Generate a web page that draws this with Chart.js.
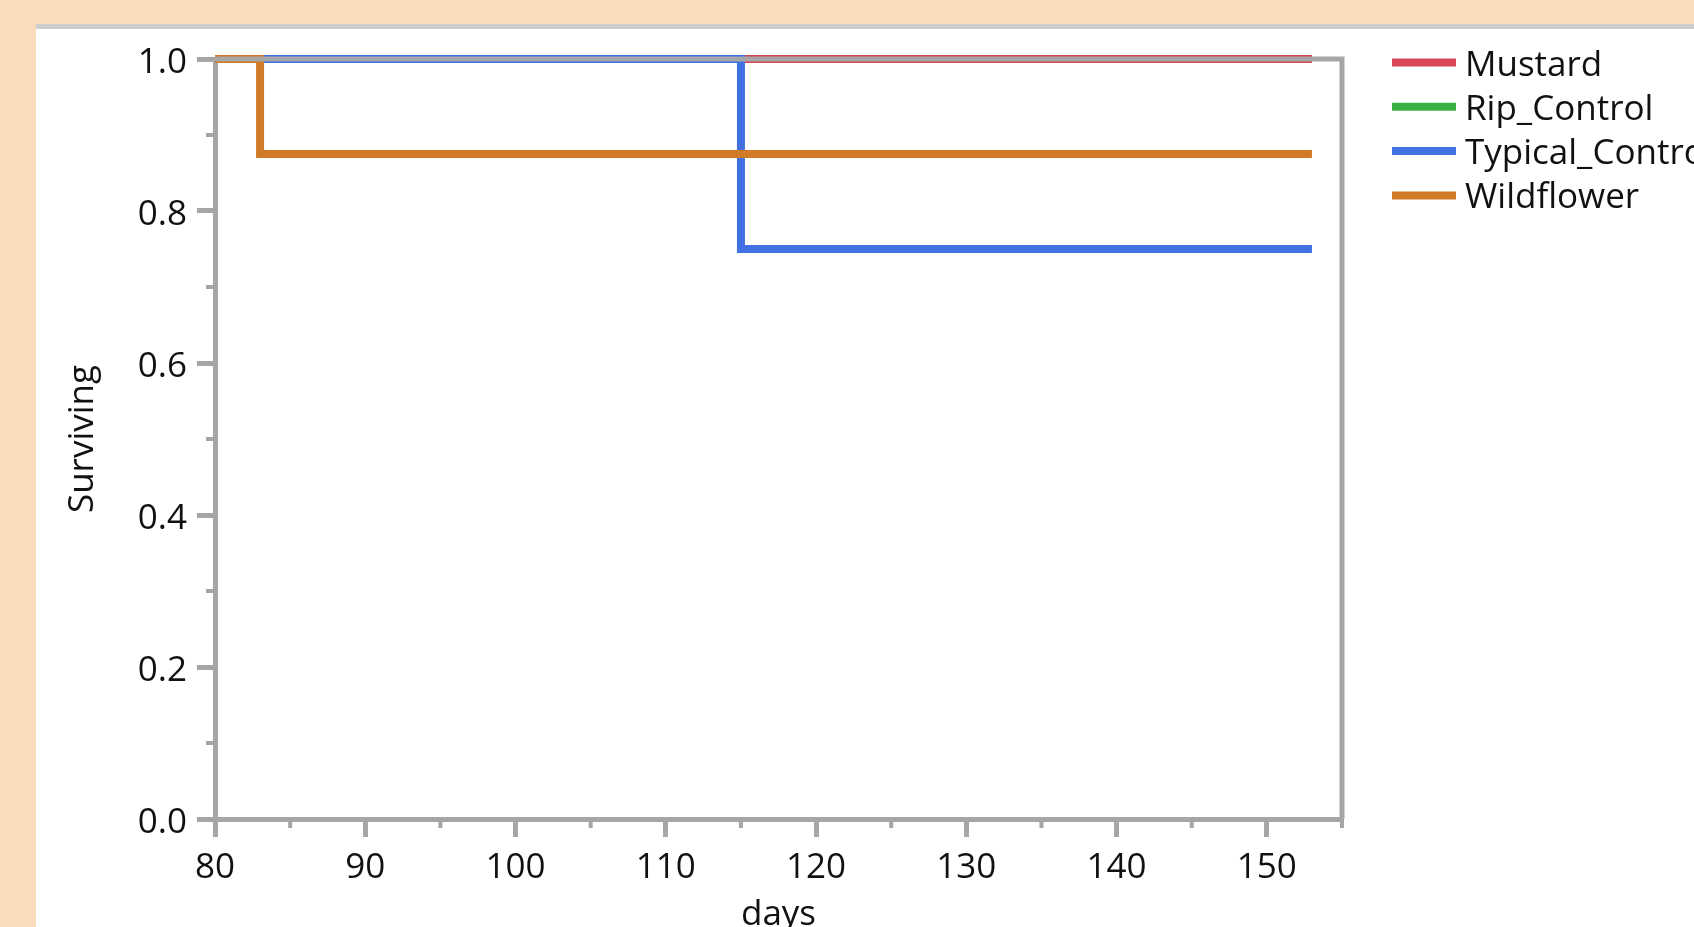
<!DOCTYPE html>
<html>
<head>
<meta charset="utf-8">
<title>Surviving</title>
<script src="https://cdn.jsdelivr.net/npm/chart.js@4.4.1/dist/chart.umd.min.js"></script>
<style>
  html, body { margin: 0; padding: 0; width: 1694px; height: 927px; overflow: hidden; background: #fadcba; }
  #panel { position: absolute; left: 36px; top: 24px; right: 0; bottom: 0; background: #fff; border-top: 5px solid #cdcdcd; }
  #wrap { position: absolute; left: 0; top: 0; width: 1694px; height: 927px; }
</style>
</head>
<body>
<div id="panel"></div>
<div id="wrap"><canvas id="myChart"></canvas></div>
<script>
// series (Kaplan-Meier steps)
const seriesNames = ["Mustard", "Rip_Control", "Typical_Control", "Wildflower"];
const seriesColors = ["#d64858", "#3bb143", "#4170e0", "#d07a28"];
const drawOrder = [3, 4, 2, 1]; // lower = drawn on top

const mustardDays = [80, 153];
const mustardSurv = [1, 1];
const ripDays = [80, 153];
const ripSurv = [1, 1];
const typicalDays = [80, 115, 153];
const typicalSurv = [1, 0.75, 0.75];
const wildflowerDays = [80, 83, 153];
const wildflowerSurv = [1, 0.875, 0.875];

const xTicks = [80, 90, 100, 110, 120, 130, 140, 150];
const xMinor = [85, 95, 105, 115, 125, 135, 145, 155];
const yTicks = [0, 0.2, 0.4, 0.6, 0.8, 1.0];
const yMinor = [0.1, 0.3, 0.5, 0.7, 0.9];

const axisGray = "#a6a6a6";
const textColor = "#111";
const fontFamily = "'Open Sans', 'Noto Sans', sans-serif";
const fontSize = 35;

function toPoints(days, surv) {
  return days.map((d, i) => ({ x: d, y: surv[i] }));
}

const allDays = [mustardDays, ripDays, typicalDays, wildflowerDays];
const allSurv = [mustardSurv, ripSurv, typicalSurv, wildflowerSurv];

const datasets = seriesNames.map((name, i) => ({
  label: name,
  data: toPoints(allDays[i], allSurv[i]),
  borderColor: seriesColors[i],
  backgroundColor: seriesColors[i],
  borderWidth: 8,
  stepped: "before",
  pointRadius: 0,
  fill: false,
  clip: false,
  borderJoinStyle: "miter",
  borderCapStyle: "butt",
  order: drawOrder[i],
}));

// frame on top/right + minor ticks
const framePlugin = {
  id: "frame",
  afterDatasetsDraw(chart) {
    const { ctx, chartArea, scales } = chart;
    ctx.save();
    ctx.strokeStyle = axisGray;
    ctx.lineWidth = 5;
    ctx.lineCap = "butt";
    ctx.beginPath();
    ctx.moveTo(chartArea.left, chartArea.top);
    ctx.lineTo(chartArea.right, chartArea.top);
    ctx.lineTo(chartArea.right, chartArea.bottom);
    ctx.stroke();

    ctx.lineWidth = 4;
    ctx.beginPath();
    xMinor.forEach((v) => {
      const x = scales.x.getPixelForValue(v);
      ctx.moveTo(x, chartArea.bottom);
      ctx.lineTo(x, chartArea.bottom + 9);
    });
    yMinor.forEach((v) => {
      const y = scales.y.getPixelForValue(v);
      ctx.moveTo(chartArea.left, y);
      ctx.lineTo(chartArea.left - 9, y);
    });
    ctx.stroke();
    ctx.restore();
  },
};

// legend drawn at the right, clipped by the window edge like the original
const legendPlugin = {
  id: "sideLegend",
  afterDraw(chart) {
    const { ctx } = chart;
    ctx.save();
    ctx.font = fontSize + "px " + fontFamily;
    ctx.textBaseline = "alphabetic";
    ctx.textAlign = "left";
    chart.data.datasets.forEach((ds, i) => {
      const y = 62.5 + i * 44.3;
      ctx.strokeStyle = ds.borderColor;
      ctx.lineWidth = 8;
      ctx.beginPath();
      ctx.moveTo(1392, y);
      ctx.lineTo(1456, y);
      ctx.stroke();
      ctx.fillStyle = textColor;
      ctx.fillText(ds.label, 1465, y + 13);
    });
    ctx.restore();
  },
};

new Chart("myChart", {
  type: "line",
  data: { datasets: datasets },
  plugins: [framePlugin, legendPlugin],
  options: {
    responsive: true,
    maintainAspectRatio: false,
    animation: false,
    devicePixelRatio: 1,
    layout: { padding: { top: 59, right: 352, left: 0, bottom: 0 } },
    plugins: {
      legend: { display: false },
      tooltip: { enabled: false },
    },
    scales: {
      x: {
        type: "linear",
        position: "bottom",
        min: 80,
        max: 155,
        z: 1,
        border: { display: true, color: axisGray, width: 5 },
        grid: {
          display: true,
          drawOnChartArea: false,
          drawTicks: true,
          tickLength: 18,
          tickWidth: 5,
          tickColor: axisGray,
        },
        afterBuildTicks: (scale) => {
          scale.ticks = xTicks.map((v) => ({ value: v }));
        },
        afterFit: (scale) => {
          scale.height = 108;
        },
        ticks: {
          autoSkip: false,
          maxRotation: 0,
          padding: 10,
          color: textColor,
          font: { family: fontFamily, size: fontSize },
        },
        title: {
          display: true,
          text: "days",
          color: textColor,
          font: { family: fontFamily, size: fontSize, lineHeight: 0.6 },
          padding: { top: 0, bottom: 1 },
        },
      },
      y: {
        type: "linear",
        position: "left",
        min: 0,
        max: 1,
        z: 1,
        border: { display: true, color: axisGray, width: 5 },
        grid: {
          display: true,
          drawOnChartArea: false,
          drawTicks: true,
          tickLength: 18,
          tickWidth: 5,
          tickColor: axisGray,
        },
        afterBuildTicks: (scale) => {
          scale.ticks = yTicks.map((v) => ({ value: v }));
        },
        afterFit: (scale) => {
          scale.width = 215;
        },
        ticks: {
          padding: 10,
          labelOffset: 4,
          color: textColor,
          font: { family: fontFamily, size: fontSize },
          callback: (v) => Number(v).toFixed(1),
        },
        title: {
          display: true,
          text: "Surviving",
          color: textColor,
          font: { family: fontFamily, size: fontSize, lineHeight: 1.2 },
          padding: { top: 62, bottom: 0 },
        },
      },
    },
  },
});
</script>
</body>
</html>
